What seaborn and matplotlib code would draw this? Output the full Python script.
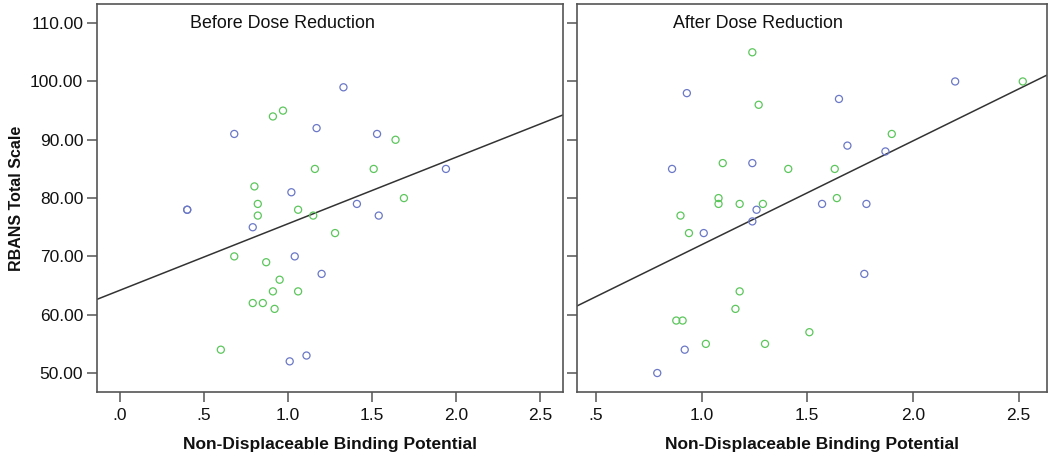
import matplotlib
matplotlib.use("Agg")
import matplotlib.pyplot as plt
import seaborn as sns
import pandas as pd

# ---------------- data ----------------
before_blue_x = [1.33, 0.68, 1.17, 1.02, 0.40, 0.40, 0.79, 1.04, 1.20, 1.01, 1.11, 1.53, 1.94, 1.41, 1.54]
before_blue_y = [99, 91, 92, 81, 78, 78, 75, 70, 67, 52, 53, 91, 85, 79, 77]
before_green_x = [0.91, 0.97, 1.16, 0.80, 0.82, 1.06, 0.82, 1.15, 1.28, 0.68, 0.87,
                  0.95, 0.91, 1.06, 0.79, 0.85, 0.92, 0.60, 1.64, 1.51, 1.69]
before_green_y = [94, 95, 85, 82, 79, 78, 77, 77, 74, 70, 69,
                  66, 64, 64, 62, 62, 61, 54, 90, 85, 80]

after_blue_x = [0.93, 0.86, 1.24, 1.26, 1.24, 1.01, 0.92, 0.79, 2.20, 1.65, 1.69, 1.87, 1.57, 1.78, 1.77]
after_blue_y = [98, 85, 86, 78, 76, 74, 54, 50, 100, 97, 89, 88, 79, 79, 67]
after_green_x = [1.24, 1.27, 1.10, 1.41, 1.08, 1.08, 1.18, 1.29, 0.90, 0.94, 1.18,
                 1.16, 0.88, 0.91, 1.02, 1.30, 1.51, 2.52, 1.90, 1.63, 1.64]
after_green_y = [105, 96, 86, 85, 80, 79, 79, 79, 77, 74, 64,
                 61, 59, 59, 55, 55, 57, 100, 91, 85, 80]

# fit lines (intercept, slope)
before_fit = (64.2, 11.4)
after_fit = (54.2, 17.8)

panel_titles = ["Before Dose Reduction", "After Dose Reduction"]
y_ticks = [50, 60, 70, 80, 90, 100, 110]
before_x_ticks = [0.0, 0.5, 1.0, 1.5, 2.0, 2.5]
before_x_labels = [".0", ".5", "1.0", "1.5", "2.0", "2.5"]
after_x_ticks = [0.5, 1.0, 1.5, 2.0, 2.5]
after_x_labels = [".5", "1.0", "1.5", "2.0", "2.5"]
x_label = "Non-Displaceable Binding Potential"
y_label = "RBANS Total Scale"

# ---------------- styling ----------------
sns.set_theme(style="white")
plt.rcParams["font.family"] = ["Liberation Sans", "DejaVu Sans"]

palette = {"blue": "#6b78c6", "green": "#5cc65c"}
spine_col = "#555555"
narrow = ["Liberation Sans Narrow", "Liberation Sans", "DejaVu Sans"]


def make_df(bx, by, gx, gy):
    return pd.DataFrame({
        "bp": list(bx) + list(gx),
        "rbans": list(by) + list(gy),
        "group": ["blue"] * len(bx) + ["green"] * len(gx),
    })


fig = plt.figure(figsize=(10.5, 4.58), dpi=100)
ax1 = fig.add_axes([0.0924, 0.1448, 0.4438, 0.8454])
ax2 = fig.add_axes([0.5495, 0.1448, 0.4473, 0.8454])

panels = [
    (ax1, make_df(before_blue_x, before_blue_y, before_green_x, before_green_y),
     before_fit, (-0.137, 2.637), before_x_ticks, before_x_labels, panel_titles[0], 0.200),
    (ax2, make_df(after_blue_x, after_blue_y, after_green_x, after_green_y),
     after_fit, (0.41, 2.633), after_x_ticks, after_x_labels, panel_titles[1], 0.204),
]

for ax, df, fit, xlim, xt, xtl, title, tx in panels:
    sns.scatterplot(data=df, x="bp", y="rbans", hue="group", palette=palette,
                    s=26, linewidth=0.9, legend=False, ax=ax, zorder=3)
    coll = ax.collections[-1]
    fc = coll.get_facecolors()
    coll.set_edgecolors(fc)
    coll.set_facecolors("none")

    ax.axline((0, fit[0]), slope=fit[1], color="#333333", lw=1.1, zorder=2)

    ax.set_xlim(*xlim)
    ax.set_ylim(46.8, 113.2)
    ax.set_xticks(xt)
    ax.set_xticklabels(xtl, family=narrow, fontsize=12.5)
    ax.set_yticks(y_ticks)
    ax.set_xlabel(x_label, fontsize=12.5, fontweight="bold", labelpad=10,
                  color="#111111", family=narrow)
    ax.set_ylabel("")

    for sp in ax.spines.values():
        sp.set_color(spine_col)
        sp.set_linewidth(1.2)

    ax.tick_params(axis="both", which="major", direction="out", length=7, width=1.1,
                   color=spine_col, labelsize=12.5, labelcolor="#111111", pad=3,
                   bottom=True, left=True)
    ax.tick_params(axis="x", pad=5)

    ax.text(tx, 0.94, title, transform=ax.transAxes, fontsize=12.9,
            color="#111111", va="baseline", ha="left")

ax1.set_yticklabels([f"{v:.2f}" for v in y_ticks])
ax2.set_yticklabels([])
ax1.set_ylabel(y_label, fontsize=11.5, fontweight="bold", labelpad=4, color="#111111")

fig.savefig("out.png", dpi=100)
